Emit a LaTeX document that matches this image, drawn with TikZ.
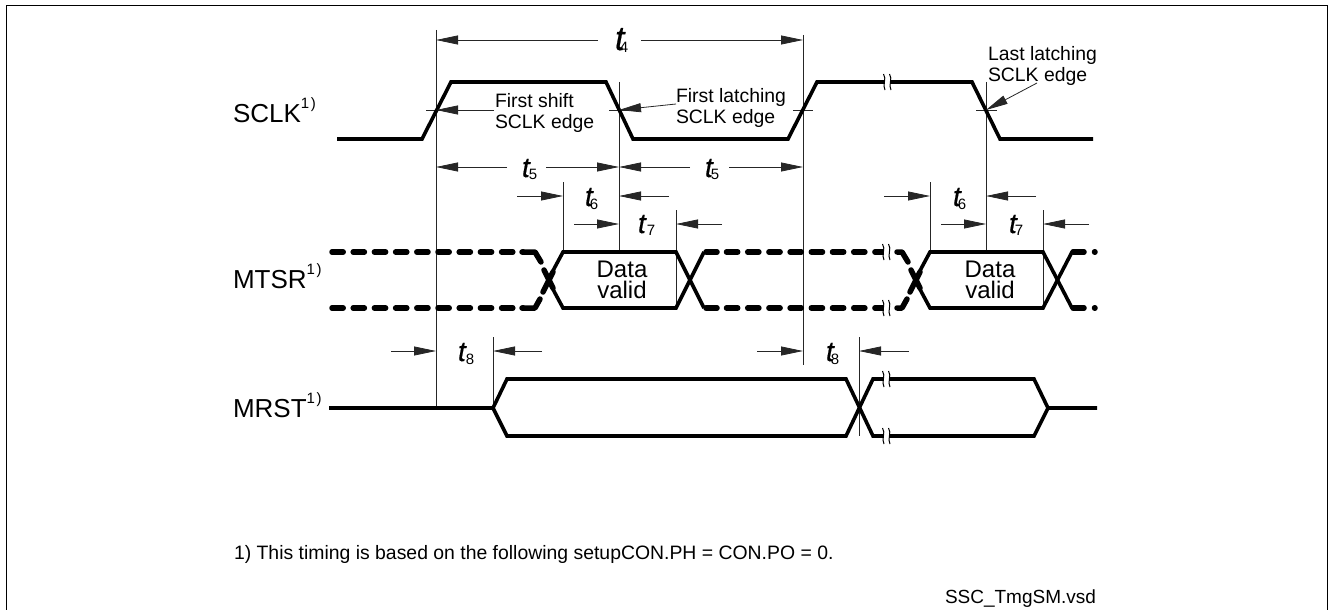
\documentclass[tikz,border=0pt]{standalone}
\usepackage{fontspec}
\setmainfont{Liberation Sans}
\usetikzlibrary{arrows.meta}
\tikzset{
  frameline/.style={line width=1pt},
  sig/.style={line width=3.6pt,line join=miter,line cap=butt},
  sigdash/.style={line width=5.5pt,line cap=round,line join=round,dash pattern=on 11.2pt off 10pt},
  sigcorner/.style={line width=5.5pt,line cap=round,line join=round},
  guide/.style={line width=0.8pt,black!85},
  dimline/.style={line width=0.8pt,black!85,-{Triangle[length=22pt,width=9pt]}},
  txt/.style={inner sep=0pt,outer sep=0pt,anchor=base west},
  note/.style={inner sep=0pt,outer sep=0pt,anchor=north west,align=left,font=\fontsize{19.4}{21.5}\selectfont},
  breakmark/.pic={
    \fill[white] (-2.6,-3) rectangle (2.6,3);
    \draw[line width=1pt] (-4.5,-8) .. controls (-1,-3) and (-6,3) .. (-3,8);
    \draw[line width=1pt] (1.5,-8) .. controls (5,-3) and (0,3) .. (3,8);
  }
}
\newfontfamily\tfont[FakeBold=0.5]{Liberation Sans}
\newcommand{\siglabel}[1]{\fontsize{26}{26}\selectfont #1\raisebox{14pt}{\fontsize{15}{15}\selectfont 1\kern1.5pt)}}
\newcommand{\tlabel}[4]{{\tfont\fontsize{#1}{#1}\selectfont\itshape t\kern#3pt\raisebox{-#4pt}{\normalfont\fontsize{15}{15}\selectfont #2}}}
\begin{document}
\begin{tikzpicture}[x=1pt,y=-1pt]
\useasboundingbox (0,0) rectangle (1331,610);
% frame
\coordinate (fbl) at (6,610); \coordinate (ftl) at (6,6);
\coordinate (ftr) at (1327,6); \coordinate (fbr) at (1327,610);
\draw[frameline] (fbl) -- (ftl) -- (ftr) -- (fbr);

% guide lines
\coordinate (A) at (436,30);  \coordinate (Ab) at (436,407);
\coordinate (B) at (619,82);  \coordinate (Bb) at (619,251);
\coordinate (C) at (803,35);  \coordinate (Cb) at (803,365);
\coordinate (D) at (986,82);  \coordinate (Db) at (986,251);
\coordinate (E) at (563,182); \coordinate (Eb) at (563,251);
\coordinate (F) at (676,210); \coordinate (Fb) at (676,308);
\coordinate (G) at (930,182); \coordinate (Gb) at (930,251);
\coordinate (H) at (1043,210);\coordinate (Hb) at (1043,308);
\coordinate (I) at (493,337); \coordinate (Ib) at (493,407);
\coordinate (J) at (859,337); \coordinate (Jb) at (859,436);
\foreach \a/\b in {A/Ab,B/Bb,C/Cb,D/Db,E/Eb,F/Fb,G/Gb,H/Hb,I/Ib,J/Jb}
  \draw[guide] (\a) -- (\b);

% threshold ticks
\coordinate (k1a) at (426,110); \coordinate (k1b) at (446,110);
\coordinate (k2a) at (609,110); \coordinate (k2b) at (629,110);
\coordinate (k3a) at (793,110); \coordinate (k3b) at (813,110);
\coordinate (k4a) at (976,110); \coordinate (k4b) at (997,110);
\foreach \a/\b in {k1a/k1b,k2a/k2b,k3a/k3b,k4a/k4b}
  \draw[guide] (\a) -- (\b);

% SCLK
\coordinate (s0) at (337,139); \coordinate (s1) at (422,139);
\coordinate (s2) at (451,82);  \coordinate (s3) at (606,82);
\coordinate (s4) at (633,139); \coordinate (s5) at (788,139);
\coordinate (s6) at (817,82);  \coordinate (s7) at (972,82);
\coordinate (s8) at (1000,139);\coordinate (s9) at (1093,139);
\draw[sig] (s0) -- (s1) -- (s2) -- (s3) -- (s4) -- (s5) -- (s6) -- (s7) -- (s8) -- (s9);
\path (888,82) pic {breakmark};

% MTSR solid
\coordinate (m1) at (563,252); \coordinate (m2) at (676,252);
\coordinate (m3) at (563,308); \coordinate (m4) at (676,308);
\coordinate (m5) at (930,252); \coordinate (m6) at (1043,252);
\coordinate (m7) at (930,308); \coordinate (m8) at (1043,308);
\coordinate (mx1) at (548,280);\coordinate (mx2) at (915,280);
\coordinate (n1) at (704,252); \coordinate (n2) at (704,308);
\coordinate (n3) at (1072,252);\coordinate (n4) at (1072,308);
\draw[sig] (mx1) -- (m1) -- (m2) -- (n2);
\draw[sig] (mx1) -- (m3) -- (m4) -- (n1);
\draw[sig] (mx2) -- (m5) -- (m6) -- (n4);
\draw[sig] (mx2) -- (m7) -- (m8) -- (n3);

% MTSR dashed, first run
\coordinate (d1a) at (332,252); \coordinate (d1b) at (523,252);
\coordinate (d2a) at (332,308); \coordinate (d2b) at (523,308);
\draw[sigdash] (d1a) -- (d1b);
\draw[sigdash] (d2a) -- (d2b);
\coordinate (c1) at (522,252); \coordinate (c2) at (535,252); \coordinate (c3) at (541,262);
\coordinate (c4) at (522,308); \coordinate (c5) at (535,308); \coordinate (c6) at (540,299);
\coordinate (c7) at (544,270); \coordinate (c8) at (553,288);
\coordinate (c9) at (543,292); \coordinate (c10) at (553,272);
\draw[sigcorner] (c1) -- (c2) -- (c3);
\draw[sigcorner] (c4) -- (c5) -- (c6);
\draw[sigcorner] (c7) -- (c8);
\draw[sigcorner] (c9) -- (c10);

% MTSR dashed, second run
\coordinate (e1a) at (706,252); \coordinate (e1b) at (717,252);
\coordinate (e2a) at (706,308); \coordinate (e2b) at (717,308);
\draw[sigcorner] (e1a) -- (e1b);
\draw[sigcorner] (e2a) -- (e2b);
\coordinate (e3a) at (726.5,252); \coordinate (e3b) at (884,252);
\coordinate (e4a) at (726.5,308); \coordinate (e4b) at (884,308);
\draw[sigdash] (e3a) -- (e3b);
\draw[sigdash] (e4a) -- (e4b);
\coordinate (f1) at (897,252); \coordinate (f2) at (902,252); \coordinate (f3) at (908,262);
\coordinate (f4) at (897,308); \coordinate (f5) at (902,308); \coordinate (f6) at (907,299);
\coordinate (f7) at (911,270); \coordinate (f8) at (920,288);
\coordinate (f9) at (910,292); \coordinate (f10) at (920,272);
\draw[sigcorner] (f1) -- (f2) -- (f3);
\draw[sigcorner] (f4) -- (f5) -- (f6);
\draw[sigcorner] (f7) -- (f8);
\draw[sigcorner] (f9) -- (f10);
\path (887,252) pic {breakmark};
\path (887,308) pic {breakmark};

% MTSR tail
\coordinate (g1a) at (1073,252); \coordinate (g1b) at (1084,252);
\coordinate (g2a) at (1073,308); \coordinate (g2b) at (1084,308);
\coordinate (g3a) at (1094.5,252); \coordinate (g3b) at (1095,252);
\coordinate (g4a) at (1094.5,308); \coordinate (g4b) at (1095,308);
\foreach \a/\b in {g1a/g1b,g2a/g2b,g3a/g3b,g4a/g4b}
  \draw[sigcorner] (\a) -- (\b);

% MRST
\coordinate (r0) at (329,408);  \coordinate (r1) at (493,408);
\coordinate (r2) at (507,379);  \coordinate (r3) at (846,379);
\coordinate (r4) at (873,436);  \coordinate (r5) at (1034,436);
\coordinate (r6) at (1048,408); \coordinate (r7) at (1097,408);
\coordinate (r8) at (507,436);  \coordinate (r9) at (846,436);
\coordinate (r10) at (873,379); \coordinate (r11) at (1034,379);
\draw[sig] (r0) -- (r1) -- (r2) -- (r3) -- (r4) -- (r5) -- (r6) -- (r7);
\draw[sig] (r1) -- (r8) -- (r9) -- (r10) -- (r11) -- (r6);
\path (887,379) pic {breakmark};
\path (887,436) pic {breakmark};

% t4 dimension
\coordinate (t4l) at (598,40); \coordinate (t4r) at (641,40);
\draw[dimline] (t4l) -- (A |- t4l);
\draw[dimline] (t4r) -- (C |- t4r);
% t5
\coordinate (t5a) at (507,167); \coordinate (t5b) at (546,167);
\coordinate (t5c) at (690,167); \coordinate (t5d) at (729,167);
\draw[dimline] (t5a) -- (A |- t5a);
\draw[dimline] (t5b) -- (B |- t5b);
\draw[dimline] (t5c) -- (B |- t5c);
\draw[dimline] (t5d) -- (C |- t5d);
% t6
\coordinate (t6a) at (517,196); \coordinate (t6b) at (669,196);
\coordinate (t6c) at (884,196); \coordinate (t6d) at (1036,196);
\draw[dimline] (t6a) -- (E |- t6a);
\draw[dimline] (t6b) -- (B |- t6b);
\draw[dimline] (t6c) -- (G |- t6c);
\draw[dimline] (t6d) -- (D |- t6d);
% t7
\coordinate (t7a) at (574,224); \coordinate (t7b) at (722,224);
\coordinate (t7c) at (941,224); \coordinate (t7d) at (1089,224);
\draw[dimline] (t7a) -- (B |- t7a);
\draw[dimline] (t7b) -- (F |- t7b);
\draw[dimline] (t7c) -- (D |- t7c);
\draw[dimline] (t7d) -- (H |- t7d);
% t8
\coordinate (t8a) at (391,351); \coordinate (t8b) at (542,351);
\coordinate (t8c) at (757,351); \coordinate (t8d) at (909,351);
\draw[dimline] (t8a) -- (A |- t8a);
\draw[dimline] (t8b) -- (I |- t8b);
\draw[dimline] (t8c) -- (C |- t8c);
\draw[dimline] (t8d) -- (J |- t8d);

% edge labels
\node[note] (firstshift) at (495,93) {First shift\\SCLK edge};
\node[note] (firstlatch) at (676,88) {First latching\\SCLK edge};
\node[note] (lastlatch)  at (988,46) {Last latching\\SCLK edge};
\coordinate (p1) at (436,110); \coordinate (p2) at (619,110); \coordinate (p3) at (986,110);
\coordinate (q1) at (494,110); \coordinate (q2) at (676,104); \coordinate (q3) at (1037,83);
\draw[dimline] (q1) -- (p1);
\draw[dimline] (q2) -- (p2);
\draw[dimline] (q3) -- (p3);

% data valid
\node[inner sep=0pt,anchor=north,align=center,font=\fontsize{24}{21}\selectfont] (dv1) at (622,261) {Data\\valid};
\node[inner sep=0pt,anchor=north,align=center,font=\fontsize{24}{21}\selectfont] (dv2) at (990,261) {Data\\valid};

% signal names
\node[txt] (sclk) at (233,122) {\siglabel{SCLK}};
\node[txt] (mtsr) at (233,288) {\siglabel{MTSR}};
\node[txt] (mrst) at (233,417) {\siglabel{MRST}};

% time labels
\node[txt] (lt4)  at (615,50)  {\tlabel{34}{4}{-4.5}{3}};
\node[txt] (lt5a) at (522,177) {\tlabel{28}{5}{-0.8}{2}};
\node[txt] (lt5b) at (705,177) {\tlabel{28}{5}{-2}{2}};
\node[txt] (lt6a) at (585,206) {\tlabel{28}{6}{-3}{3}};
\node[txt] (lt6b) at (953,206) {\tlabel{28}{6}{-3}{3}};
\node[txt] (lt7a) at (638,233) {\tlabel{28}{7}{1}{2}};
\node[txt] (lt7b) at (1009,233){\tlabel{28}{7}{-2}{2}};
\node[txt] (lt8a) at (458,361) {\tlabel{28}{8}{0}{3}};
\node[txt] (lt8b) at (826,361) {\tlabel{28}{8}{-3}{3}};

% footnotes
\node[txt,font=\fontsize{19.4}{19.4}\selectfont] (foot) at (234,559) {1) This timing is based on the following setupCON.PH = CON.PO = 0.};
\node[txt,font=\fontsize{19}{19}\selectfont] (file) at (945,603) {SSC\_TmgSM.vsd};
\end{tikzpicture}
\end{document}
